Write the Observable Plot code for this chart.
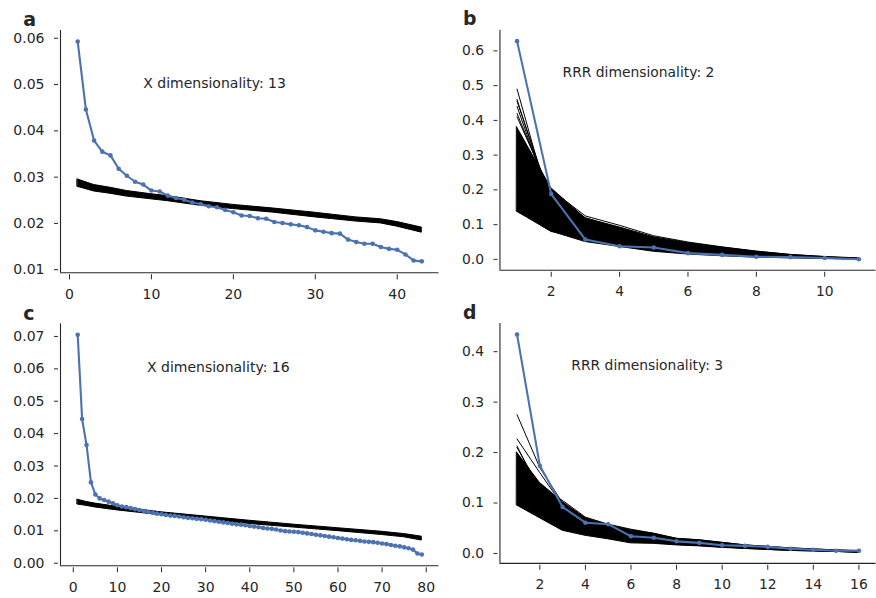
<!DOCTYPE html>
<html>
<head>
<meta charset="utf-8">
<script src="https://cdn.jsdelivr.net/npm/d3@7"></script>
<script src="https://cdn.jsdelivr.net/npm/@observablehq/plot@0.6"></script>
<style>
  body { margin: 0; background: #fff; }
  #fig { position: relative; width: 876px; height: 598px; overflow: hidden; background: #fff; }
  #fig > .panel { position: absolute; }
</style>
</head>
<body>
<div id="fig"></div>
<script>
// ---------- data ----------
// Panel a: X eigenvalue spectrum (43 ranks)
const blueA = [0.0593, 0.0446, 0.0379, 0.0355, 0.0347, 0.0318, 0.0303, 0.0290, 0.0284, 0.0271,
  0.0269, 0.0260, 0.0255, 0.0251, 0.0245, 0.0242, 0.0237, 0.0235, 0.0229, 0.0224,
  0.0217, 0.0216, 0.0211, 0.0210, 0.0203, 0.0201, 0.0198, 0.0196, 0.0192, 0.0185,
  0.0182, 0.0179, 0.0178, 0.0165, 0.0160, 0.0156, 0.0156, 0.0149, 0.0145, 0.0143,
  0.0133, 0.0120, 0.0118];
// shuffled-null band for panel a (envelope of the black lines)
const bandRankA = [1, 3, 5, 7, 10, 12, 16, 20, 25, 30, 35, 38, 40, 43];
const bandLoA   = [0.0279, 0.0269, 0.0264, 0.0258, 0.0252, 0.0248, 0.0238, 0.0231, 0.0223, 0.0213, 0.0204, 0.0200, 0.0193, 0.0180];
const bandHiA   = [0.0295, 0.0283, 0.0277, 0.0270, 0.0263, 0.0259, 0.0248, 0.0240, 0.0232, 0.0223, 0.0213, 0.0209, 0.0203, 0.0191];

// Panel b: RRR spectrum (11 ranks)
const blueB = [0.628, 0.188, 0.057, 0.038, 0.034, 0.018, 0.013, 0.0076, 0.0066, 0.004, 0.0005];
const coreLoB = [0.137, 0.080, 0.050, 0.036, 0.022, 0.014, 0.009, 0.005, 0.003, 0.001, 0.000];
const coreHiB = [0.380, 0.205, 0.118, 0.092, 0.064, 0.047, 0.034, 0.022, 0.013, 0.007, 0.003];
const nullLinesB = [
  [0.490, 0.140, 0.090, 0.070, 0.050, 0.040, 0.030, 0.020, 0.010, 0.005, 0.002],
  [0.460, 0.150, 0.100, 0.070, 0.050, 0.040, 0.030, 0.020, 0.010, 0.005, 0.002],
  [0.455, 0.170, 0.090, 0.060, 0.050, 0.035, 0.025, 0.015, 0.010, 0.005, 0.002],
  [0.440, 0.160, 0.100, 0.080, 0.050, 0.035, 0.025, 0.015, 0.010, 0.005, 0.002],
  [0.420, 0.180, 0.110, 0.080, 0.060, 0.040, 0.030, 0.020, 0.010, 0.005, 0.002],
  [0.410, 0.190, 0.120, 0.090, 0.060, 0.045, 0.030, 0.020, 0.010, 0.006, 0.002],
  [0.300, 0.200, 0.125, 0.098, 0.068, 0.050, 0.036, 0.024, 0.014, 0.008, 0.003],
  [0.160, 0.090, 0.060, 0.050, 0.040, 0.030, 0.020, 0.012, 0.006, 0.003, 0.001],
  [0.140, 0.080, 0.075, 0.060, 0.045, 0.035, 0.025, 0.015, 0.008, 0.004, 0.001]
];

// Panel c: X eigenvalue spectrum (79 ranks)
const blueC = [0.0705, 0.0445, 0.0365, 0.0250, 0.0212, 0.0200, 0.0195, 0.0190, 0.0185, 0.0179,
  0.0175, 0.0173, 0.0170, 0.0167, 0.0164, 0.0161, 0.0158, 0.0156, 0.0153, 0.0151,
  0.0149, 0.0147, 0.0146, 0.0144, 0.0142, 0.0140, 0.0139, 0.0137, 0.0136, 0.0134,
  0.0132, 0.0130, 0.0128, 0.0126, 0.0124, 0.0122, 0.0120, 0.0119, 0.0117, 0.0115,
  0.0113, 0.0111, 0.0109, 0.0107, 0.0106, 0.0104, 0.0101, 0.0099, 0.0098, 0.0097,
  0.0096, 0.0094, 0.0092, 0.0090, 0.0088, 0.0086, 0.0084, 0.0082, 0.0080, 0.0078,
  0.0076, 0.0074, 0.0072, 0.0071, 0.0069, 0.0067, 0.0066, 0.0065, 0.0063, 0.0061,
  0.0059, 0.0056, 0.0054, 0.0052, 0.0049, 0.0046, 0.0042, 0.0030, 0.0027];
const bandRankC = [1, 3, 5, 10, 20, 30, 40, 50, 60, 70, 75, 79];
const bandLoC   = [0.0181, 0.0177, 0.0172, 0.0163, 0.0148, 0.0134, 0.0121, 0.0110, 0.0099, 0.0087, 0.0080, 0.0070];
const bandHiC   = [0.0196, 0.0189, 0.0184, 0.0174, 0.0157, 0.0144, 0.0131, 0.0119, 0.0108, 0.0097, 0.0090, 0.0082];

// Panel d: RRR spectrum (16 ranks)
const blueD = [0.434, 0.174, 0.092, 0.061, 0.058, 0.034, 0.031, 0.024, 0.021, 0.0164, 0.015, 0.013, 0.0092, 0.0072, 0.0052, 0.0052];
const coreLoD = [0.095, 0.070, 0.045, 0.035, 0.028, 0.020, 0.019, 0.016, 0.014, 0.011, 0.009, 0.007, 0.005, 0.004, 0.003, 0.002];
const coreHiD = [0.200, 0.140, 0.102, 0.070, 0.056, 0.046, 0.039, 0.029, 0.026, 0.021, 0.016, 0.013, 0.010, 0.008, 0.006, 0.005];
const nullLinesD = [
  [0.275, 0.170, 0.100, 0.070, 0.050, 0.040, 0.030, 0.025, 0.020, 0.015, 0.012, 0.010, 0.008, 0.006, 0.004, 0.003],
  [0.227, 0.160, 0.095, 0.065, 0.050, 0.040, 0.030, 0.025, 0.020, 0.016, 0.013, 0.010, 0.008, 0.006, 0.005, 0.003],
  [0.213, 0.120, 0.090, 0.060, 0.050, 0.040, 0.030, 0.024, 0.020, 0.016, 0.013, 0.010, 0.008, 0.006, 0.004, 0.003],
  [0.210, 0.130, 0.105, 0.072, 0.058, 0.048, 0.040, 0.030, 0.027, 0.022, 0.017, 0.014, 0.011, 0.009, 0.007, 0.005],
  [0.100, 0.075, 0.050, 0.040, 0.032, 0.025, 0.022, 0.018, 0.016, 0.013, 0.010, 0.008, 0.006, 0.005, 0.004, 0.002]
];

// tick values and texts
const xTicksA = [0, 10, 20, 30, 40];
const yTicksA = [0.01, 0.02, 0.03, 0.04, 0.05, 0.06];
const xTicksB = [2, 4, 6, 8, 10];
const yTicksB = [0.0, 0.1, 0.2, 0.3, 0.4, 0.5, 0.6];
const xTicksC = [0, 10, 20, 30, 40, 50, 60, 70, 80];
const yTicksC = [0.00, 0.01, 0.02, 0.03, 0.04, 0.05, 0.06, 0.07];
const xTicksD = [2, 4, 6, 8, 10, 12, 14, 16];
const yTicksD = [0.0, 0.1, 0.2, 0.3, 0.4];
const notes = ["X dimensionality: 13", "RRR dimensionality: 2", "X dimensionality: 16", "RRR dimensionality: 3"];
const panelLetters = ["a", "b", "c", "d"];

// ---------- drawing ----------
const BLUE = "#4C72B0";
const INK = "#262626";
const FONT = "'DejaVu Sans', 'Liberation Sans', sans-serif";
const FS = 14;

function toRows(values) { return values.map((v, i) => ({rank: i + 1, v})); }
function bandRows(ranks, lo, hi) { return ranks.map((r, i) => ({rank: r, lo: lo[i], hi: hi[i]})); }
function lineRows(lines) {
  return lines.flatMap((vals, j) => vals.map((v, i) => ({line: j, rank: i + 1, v})));
}

function panel(cfg) {
  const blueRows = toRows(cfg.blue);
  const marks = [];
  if (cfg.band) {
    marks.push(Plot.areaY(cfg.band, {x: "rank", y1: "lo", y2: "hi", fill: "#000", stroke: "#000", strokeWidth: 1}));
  }
  if (cfg.lines) {
    marks.push(Plot.lineY(lineRows(cfg.lines), {x: "rank", y: "v", z: "line", stroke: "#000", strokeWidth: 1}));
  }
  marks.push(
    Plot.line(blueRows, {x: "rank", y: "v", stroke: BLUE, strokeWidth: 2.1}),
    Plot.dot(blueRows, {x: "rank", y: "v", r: 2.3, fill: BLUE, stroke: "none"}),
    Plot.ruleX([cfg.xDomain[0]], {stroke: INK, strokeWidth: 1.1}),
    Plot.ruleY([cfg.yDomain[0]], {stroke: INK, strokeWidth: 1.1}),
    Plot.axisY({ticks: cfg.yTicks, tickFormat: d3.format(cfg.yFmt), tickSize: 4, tickPadding: 10, dx: -2, label: null, fontSize: FS}),
    Plot.axisX({ticks: cfg.xTicks, tickFormat: d => String(d), tickSize: 5, tickPadding: 9, dy: 2, label: null, fontSize: FS}),
    Plot.text([cfg.note], {x: cfg.noteX, y: cfg.noteY, text: d => d, textAnchor: "start", lineAnchor: "middle", fontSize: FS, fill: INK}),
    Plot.text([cfg.letter], {frameAnchor: "top-left", text: d => d, textAnchor: "start", lineAnchor: "middle",
      dx: -37.3, dy: cfg.letterDy, fontSize: 19, fontWeight: "bold", fill: INK})
  );
  const svg = Plot.plot({
    width: cfg.width, height: cfg.height,
    marginLeft: cfg.ml, marginRight: cfg.mr, marginTop: cfg.mt, marginBottom: cfg.mb,
    x: {domain: cfg.xDomain},
    y: {domain: cfg.yDomain},
    style: {color: INK, fontFamily: FONT, fontSize: FS + "px", background: "transparent", overflow: "visible"},
    marks
  });
  const wrap = document.createElement("div");
  wrap.className = "panel";
  wrap.style.left = cfg.left + "px";
  wrap.style.top = cfg.top + "px";
  wrap.appendChild(svg);
  document.getElementById("fig").appendChild(wrap);
}

panel({
  blue: blueA, band: bandRows(bandRankA, bandLoA, bandHiA),
  xDomain: [-1.1, 45.1], yDomain: [0.00933, 0.06168], xTicks: xTicksA, yTicks: yTicksA, yFmt: ".2f",
  note: notes[0], noteX: 9.0, noteY: 0.0502, letter: panelLetters[0], letterDy: -11,
  left: 0, top: 0, width: 440, height: 300, ml: 60, mr: 1.5, mt: 30, mb: 27.7
});
panel({
  blue: blueB, band: bandRows(d3.range(1, 12), coreLoB, coreHiB), lines: nullLinesB,
  xDomain: [0.5, 11.5], yDomain: [-0.0314, 0.6594], xTicks: xTicksB, yTicks: yTicksB, yFmt: ".1f",
  note: notes[1], noteX: 2.33, noteY: 0.539, letter: panelLetters[1], letterDy: -11,
  left: 440, top: 0, width: 440, height: 300, ml: 60, mr: 0.5, mt: 30, mb: 27.7
});
panel({
  blue: blueC, band: bandRows(bandRankC, bandLoC, bandHiC),
  xDomain: [-2.9, 82.9], yDomain: [-0.0008, 0.0739], xTicks: xTicksC, yTicks: yTicksC, yFmt: ".2f",
  note: notes[2], noteX: 16.7, noteY: 0.0605, letter: panelLetters[2], letterDy: -10.3,
  left: 0, top: 295, width: 440, height: 305, ml: 60, mr: 1.5, mt: 28.3, mb: 34.7
});
panel({
  blue: blueD, band: bandRows(d3.range(1, 17), coreLoD, coreHiD), lines: nullLinesD,
  xDomain: [0.25, 16.75], yDomain: [-0.0196, 0.4558], xTicks: xTicksD, yTicks: yTicksD, yFmt: ".1f",
  note: notes[3], noteX: 3.38, noteY: 0.3725, letter: panelLetters[3], letterDy: -10.3,
  left: 440, top: 295, width: 440, height: 305, ml: 60, mr: 0.5, mt: 28.3, mb: 34.7
});
</script>
</body>
</html>
